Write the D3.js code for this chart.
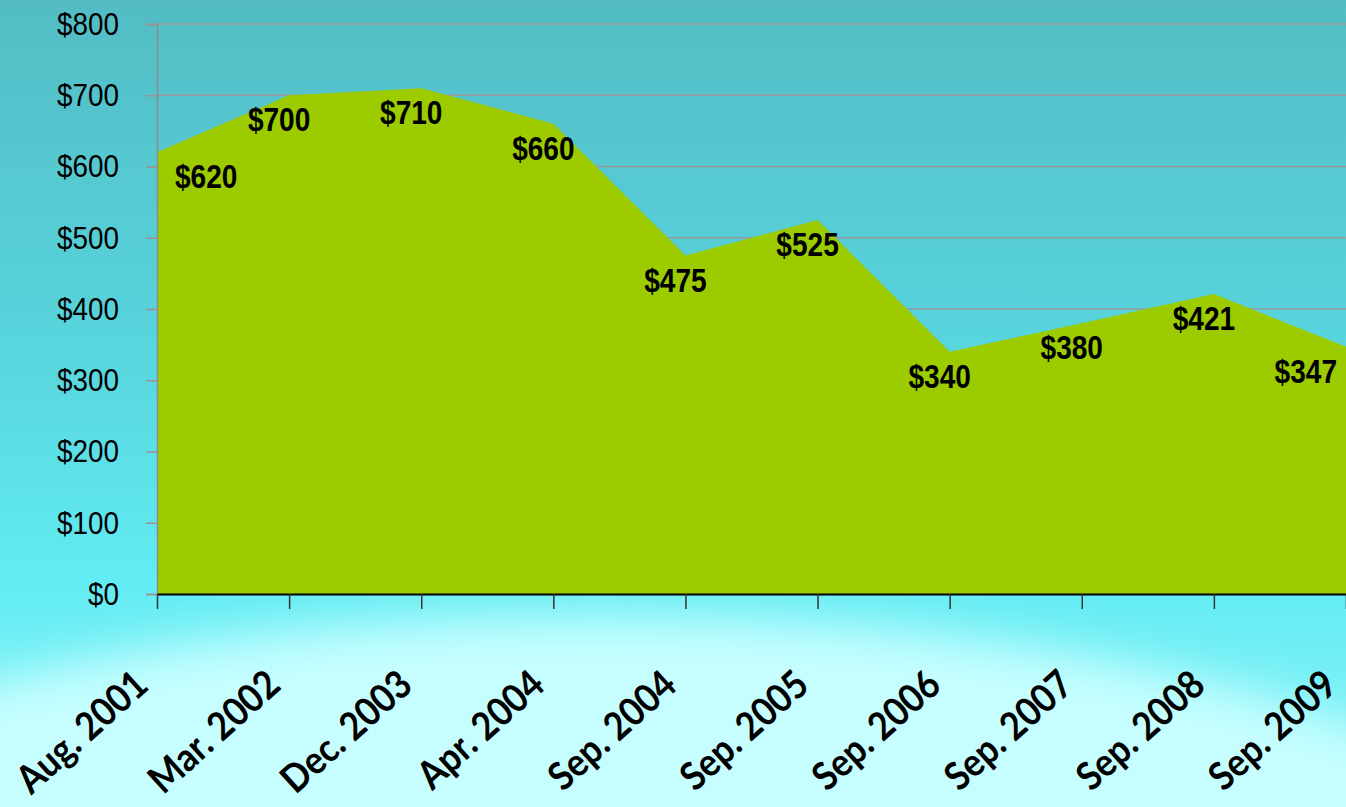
<!DOCTYPE html>
<html>
<head>
<meta charset="utf-8">
<script src="https://cdn.jsdelivr.net/npm/d3@7"></script>
<style>
  html, body { margin: 0; padding: 0; overflow: hidden; }
  svg { display: block; }
</style>
</head>
<body>
<div id="container"></div>
<script>
// chart data
const categories = ['Aug. 2001', 'Mar. 2002', 'Dec. 2003', 'Apr. 2004', 'Sep. 2004',
                    'Sep. 2005', 'Sep. 2006', 'Sep. 2007', 'Sep. 2008', 'Sep. 2009'];
const prices = [620, 700, 710, 660, 475, 525, 340, 380, 421, 347];
const yTicks = [0, 100, 200, 300, 400, 500, 600, 700, 800];

const width = 1346, height = 807;
const margin = { top: 24, right: 0, bottom: 213, left: 157 };

const svg = d3.select('#container').append('svg')
    .attr('width', width)
    .attr('height', height);

const defs = svg.append('defs');

// background gradient, teal at top going to bright cyan
const bg = defs.append('linearGradient')
    .attr('id', 'bg').attr('x1', 0).attr('y1', 0).attr('x2', 0).attr('y2', 1);
bg.append('stop').attr('offset', '0%').attr('stop-color', '#53bcc4');
bg.append('stop').attr('offset', '45%').attr('stop-color', '#58d6de');
bg.append('stop').attr('offset', '72%').attr('stop-color', '#62ecf3');
bg.append('stop').attr('offset', '100%').attr('stop-color', '#8ff4f8');

const blur = defs.append('filter').attr('id', 'soft')
    .attr('x', '-20%').attr('y', '-50%').attr('width', '140%').attr('height', '200%');
blur.append('feGaussianBlur').attr('stdDeviation', 24);

svg.append('rect')
    .attr('width', width).attr('height', height)
    .attr('fill', 'url(#bg)');

// light glow along the bottom
svg.append('ellipse')
    .attr('cx', 600).attr('cy', 940)
    .attr('rx', 1000).attr('ry', 325)
    .attr('fill', '#c6feff')
    .attr('filter', 'url(#soft)');

const x = d3.scalePoint()
    .domain(categories)
    .range([margin.left, width - margin.right]);

const y = d3.scaleLinear()
    .domain([0, 800])
    .range([height - margin.bottom, margin.top]);

// gridlines
svg.append('g')
    .selectAll('line')
    .data(yTicks.slice(1))
    .join('line')
    .attr('x1', margin.left).attr('x2', width - margin.right)
    .attr('y1', d => y(d)).attr('y2', d => y(d))
    .attr('stroke', '#9a9a9a')
    .attr('stroke-width', 1.5);

// the area itself
const area = d3.area()
    .x((d, i) => x(categories[i]))
    .y0(y(0))
    .y1(d => y(d));

svg.append('path')
    .datum(prices)
    .attr('d', area)
    .attr('fill', '#9ccc00');

// y axis
const yAxis = svg.append('g')
    .attr('transform', `translate(${margin.left},0)`)
    .call(d3.axisLeft(y).tickValues(yTicks).tickSize(11).tickFormat(d => '$' + d));
yAxis.select('.domain').attr('stroke', '#8c8c8c').attr('stroke-width', 1.5);
yAxis.selectAll('.tick line').attr('stroke', '#a09090').attr('stroke-width', 1.5);
yAxis.selectAll('.tick text')
    .attr('x', 0)
    .attr('transform', 'translate(-38,0) scale(0.87,1)')
    .attr('fill', '#000')
    .style('font-family', '"Liberation Sans", Arial, sans-serif')
    .style('font-size', '32px');

// x axis
const xAxis = svg.append('g')
    .attr('transform', `translate(0,${y(0)})`)
    .call(d3.axisBottom(x).tickSize(15).tickSizeOuter(0));
xAxis.select('.domain').attr('stroke', '#000').attr('stroke-width', 2);
xAxis.selectAll('.tick line').attr('stroke', '#333').attr('stroke-width', 1.5);
xAxis.selectAll('.tick text')
    .attr('x', 0).attr('y', 0).attr('dy', 0)
    .attr('transform', 'translate(-7,94) rotate(-42) scale(0.9,1)')
    .attr('text-anchor', 'end')
    .attr('fill', '#000')
    .style('font-family', 'Lato, "Open Sans", sans-serif')
    .style('font-weight', 'bold')
    .style('font-size', '39px');

// value labels, sitting just under each point
const last = prices.length - 1;
svg.append('g')
    .selectAll('text')
    .data(prices)
    .join('text')
    .attr('transform', (d, i) => {
        let px = x(categories[i]) - 10;
        if (i === 0) px = x(categories[i]) + 18;
        if (i === last) px = x(categories[i]) - 9;
        return `translate(${px},${y(d) + 36}) scale(0.85,1)`;
    })
    .attr('text-anchor', (d, i) => i === 0 ? 'start' : (i === last ? 'end' : 'middle'))
    .style('font-family', '"Liberation Sans", Arial, sans-serif')
    .style('font-weight', 'bold')
    .style('font-size', '33px')
    .attr('fill', '#000')
    .text(d => '$' + d);
</script>
</body>
</html>
